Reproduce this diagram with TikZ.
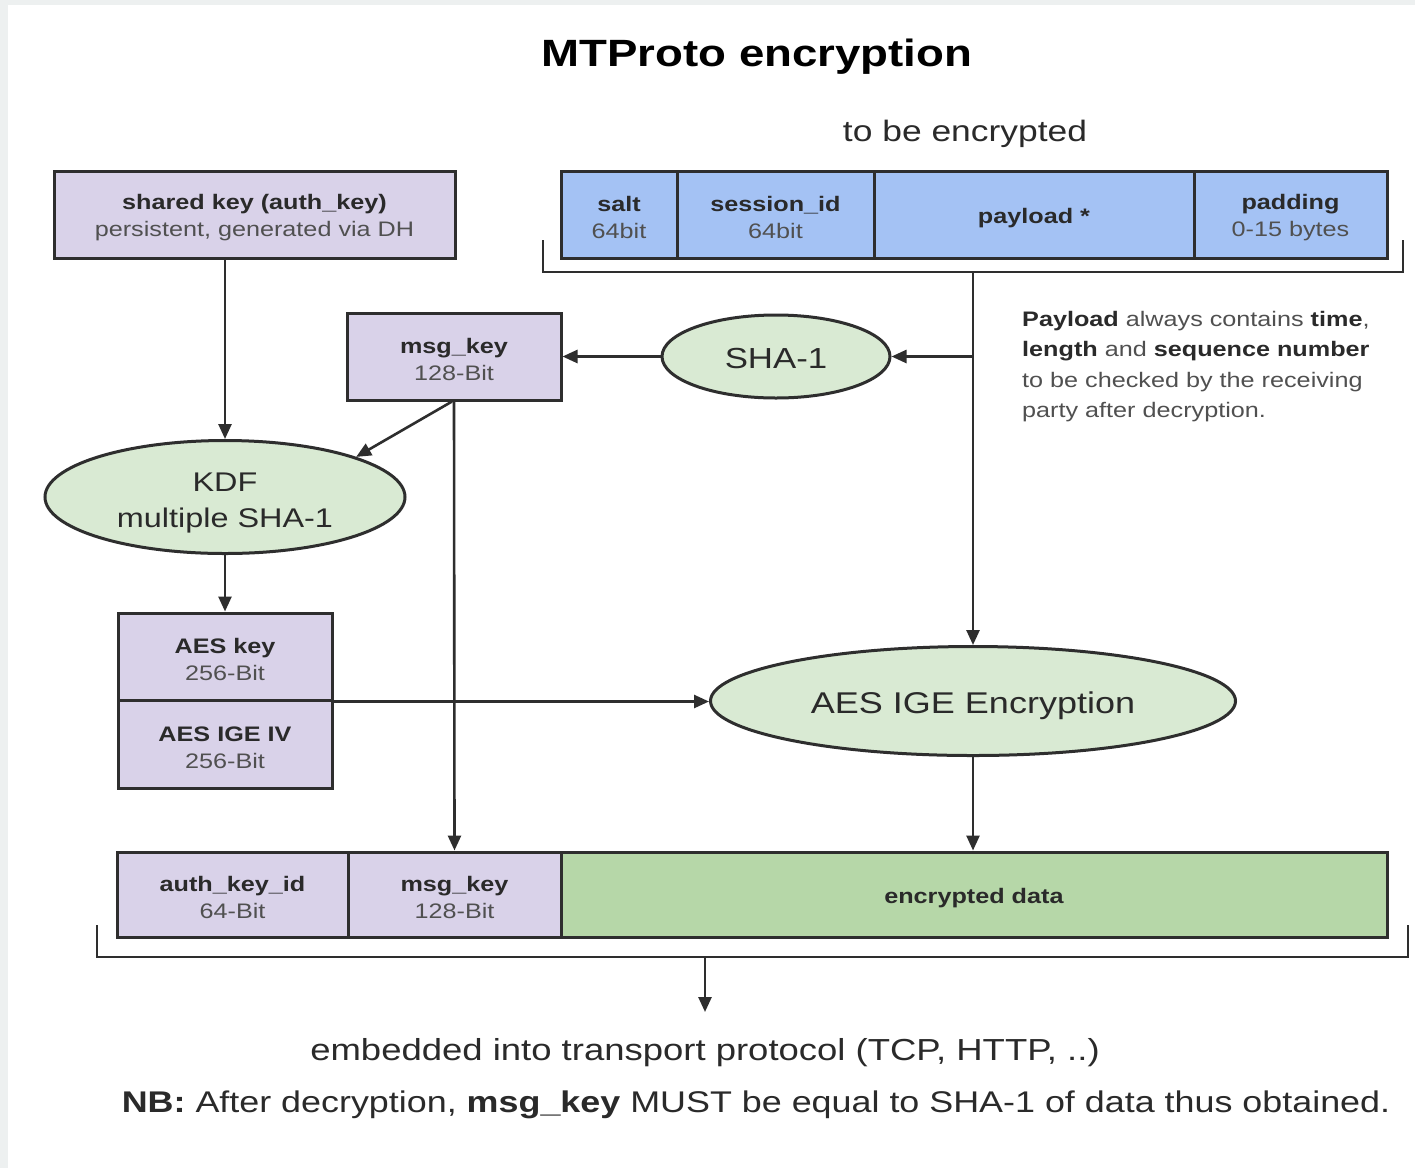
\documentclass[tikz,border=0pt]{standalone}
\usepackage{fontspec}
\setmainfont{Liberation Sans}[FakeStretch=1.2]
\usetikzlibrary{shapes.geometric,arrows.meta}
\definecolor{lav}{HTML}{D9D2E9}
\definecolor{blu}{HTML}{A4C2F4}
\definecolor{lgr}{HTML}{D9EAD3}
\definecolor{grn}{HTML}{B6D7A8}
\definecolor{edge}{HTML}{2E2E2E}
\definecolor{txt}{HTML}{2A2A2A}
\definecolor{txtl}{HTML}{505050}
\definecolor{frame}{HTML}{EDF0F0}
\newcommand\dnrule{\rule{0pt}{22pt}}
\tikzset{
  field/.style={draw=edge, line width=3pt, inner sep=0pt, align=center, text=txt,
    font=\fontsize{21}{27}\selectfont},
  oval/.style={ellipse, draw=edge, line width=3pt, fill=lgr, inner sep=0pt, align=center, text=txt},
  arr/.style={draw=edge, line width=2.6pt, -{Triangle[length=15pt,width=13pt]}},
  brk/.style={draw=edge, line width=2.6pt},
}
\begin{document}
\begin{tikzpicture}[x=1pt,y=-1pt]
\fill[frame] (0,0) rectangle (1415,1168);
\fill[white] (8,5) rectangle (1415,1168);
\useasboundingbox (0,0) rectangle (1415,1168);

% title
\node[font=\bfseries\fontsize{38}{40}\selectfont] (title) at (757,57) {MTProto encryption};
\node[font=\fontsize{29.5}{32}\selectfont, text=txt] (tbe) at (965,134) {to be encrypted};

% shared key
\node[field, fill=lav, minimum width=401pt, minimum height=87pt] (sk) at (254.5,214.5)
  {\dnrule\textbf{shared key (auth\_key)}\\{\color{txtl}persistent, generated via DH}};

% top row
\node[field, fill=blu, minimum width=116pt, minimum height=87pt] (salt) at (619,214.5) {\dnrule\textbf{salt}\\{\color{txtl}64bit}};
\node[field, fill=blu, minimum width=197pt, minimum height=87pt] (sid) at (775.5,214.5) {\dnrule\textbf{session\_id}\\{\color{txtl}64bit}};
\node[field, fill=blu, minimum width=320pt, minimum height=87pt] (pay) at (1034,214.5) {\rule{0pt}{22pt}\textbf{payload *}};
\node[field, fill=blu, minimum width=193pt, minimum height=87pt] (pad) at (1290.5,214.5) {\dnrule\textbf{padding}\\{\color{txtl}0-15 bytes}};

% bracket top
\coordinate (tbl) at (543,240);
\coordinate (tbr) at (1403,240);
\coordinate (tbc) at (973,272);
\draw[brk] (tbl) |- (tbr |- tbc) -- (tbr);
\coordinate (tbranch) at (973,356.5);

% msg_key
\node[field, fill=lav, minimum width=214pt, minimum height=87pt] (mk) at (454,356.5) {\dnrule\textbf{msg\_key}\\{\color{txtl}128-Bit}};

% SHA-1
\node[oval, minimum width=228pt, minimum height=83pt, font=\fontsize{29}{32}\selectfont] (sha) at (776,356.5) {\rule{0pt}{24pt}SHA-1};

% note
\node[anchor=north west, align=left, inner sep=0pt, text=txtl, font=\fontsize{21}{30.5}\selectfont] (note) at (1022,311)
  {{\color{txt}\textbf{Payload}} always contains {\color{txt}\textbf{time}},\\
   {\color{txt}\textbf{length}} and {\color{txt}\textbf{sequence number}}\\
   to be checked by the receiving\\
   party after decryption.};

% KDF
\node[oval, minimum width=360pt, minimum height=113pt, font=\fontsize{27}{36}\selectfont] (kdf) at (225,497) {\rule{0pt}{30pt}KDF\\multiple SHA-1};

% AES key / IV
\node[field, fill=lav, minimum width=214pt, minimum height=87pt] (aeskey) at (225,656.5) {\dnrule\textbf{AES key}\\{\color{txtl}256-Bit}};
\node[field, fill=lav, minimum width=214pt, minimum height=88pt] (aesiv) at (225,744) {\dnrule\textbf{AES IGE IV}\\{\color{txtl}256-Bit}};

% AES IGE
\node[oval, minimum width=525pt, minimum height=109pt, font=\fontsize{30}{32}\selectfont] (aes) at (973,701) {\rule{0pt}{32pt}AES IGE Encryption};

% bottom row
\node[field, fill=lav, minimum width=231pt, minimum height=85pt] (akid) at (232.5,894.5) {\dnrule\textbf{auth\_key\_id}\\{\color{txtl}64-Bit}};
\node[field, fill=lav, minimum width=213pt, minimum height=85pt] (bmk) at (454.5,894.5) {\dnrule\textbf{msg\_key}\\{\color{txtl}128-Bit}};
\node[field, fill=grn, minimum width=826pt, minimum height=85pt] (enc) at (974,894.5) {\rule{0pt}{22pt}\textbf{encrypted data}};

% bottom bracket
\coordinate (bbl) at (97,925);
\coordinate (bbr) at (1408,925);
\coordinate (bbc) at (705,957);
\coordinate (bbend) at (705,1012);
\draw[brk] (bbl) |- (bbr |- bbc) -- (bbr);

\node[font=\fontsize{30.4}{32}\selectfont, text=txt] (emb) at (705,1053) {embedded into transport protocol (TCP, HTTP, ..)};
\node[font=\fontsize{29.9}{32}\selectfont, text=txt] (nb) at (756,1105) {\textbf{NB:} After decryption, \textbf{msg\_key} MUST be equal to SHA-1 of data thus obtained.};

% connectors
\draw[arr] (tbc) -- (aes.north);
\draw[arr] (tbranch) -- (sha.east);
\draw[arr] (sha.west) -- (mk.east);
\draw[arr] (kdf.north |- sk.south) -- (kdf.north);
\draw[arr] ([xshift=-2pt]mk.south) -- (kdf.17);
\draw[arr] (mk.south) -- (bmk.north);
\draw[arr] (kdf.south) -- (aeskey.north);
\draw[arr] (aeskey.south east) -- (aeskey.south east -| aes.west);
\draw[arr] (aes.south) -- (aes.south |- enc.north);
\draw[arr] (bbc) -- (bbend);
\end{tikzpicture}
\end{document}
